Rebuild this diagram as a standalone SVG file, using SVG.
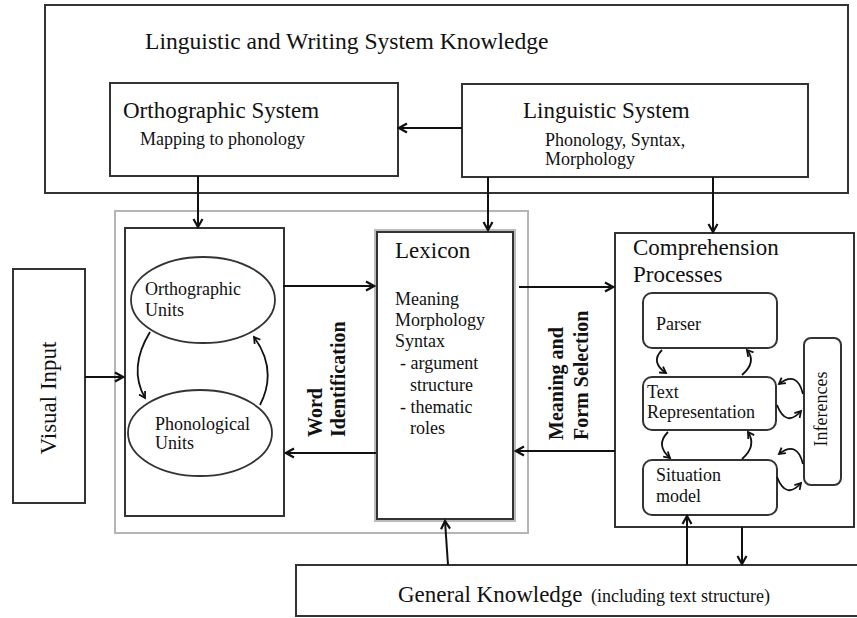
<svg xmlns="http://www.w3.org/2000/svg" width="857" height="618" viewBox="0 0 857 618">
<defs>
<marker id="ah" markerUnits="userSpaceOnUse" markerWidth="12" markerHeight="12" refX="9" refY="5" orient="auto" viewBox="-1 -1 12 12">
<path d="M1,0.5 L9,5 L1,9.5" fill="none" stroke="#111" stroke-width="2.2"/>
</marker>
<marker id="sah" markerUnits="userSpaceOnUse" markerWidth="10" markerHeight="10" refX="7" refY="4" orient="auto" viewBox="-1 -1 10 10">
<path d="M1,0.5 L7,4 L1,7.5" fill="none" stroke="#111" stroke-width="1.8"/>
</marker>
</defs>
<style>
text{font-family:"Liberation Serif","Times New Roman",serif;fill:#111}
.box{fill:#fff;stroke:#333;stroke-width:2}
.rbox{fill:#fff;stroke:#333;stroke-width:2}
.h{font-size:23px}
.t{font-size:18px}
.b{font-size:20px;font-weight:bold}
.c line,.c path{stroke:#111;stroke-width:2;fill:none}
.c .a{marker-end:url(#ah)}
.c .s{marker-end:url(#sah);stroke-width:1.8}
</style>
<rect width="857" height="618" fill="#fff"/>

<g id="ling-writing-knowledge">
<rect class="box" x="45" y="5" width="803" height="188"/>
<text x="145" y="49" font-size="23.6px">Linguistic and Writing System Knowledge</text>
</g>
<g id="orthographic-system">
<rect class="box" x="110" y="83" width="288" height="93"/>
<text class="h" x="123" y="118">Orthographic System</text>
<text class="t" x="140" y="145">Mapping to phonology</text>
</g>
<g id="linguistic-system">
<rect class="box" x="462" y="84" width="346" height="93"/>
<text class="h" x="523" y="118">Linguistic System</text>
<text class="t" x="545" y="146">Phonology, Syntax,</text>
<text class="t" x="545" y="165">Morphology</text>
</g>

<g id="word-level-group">
<rect x="115" y="211" width="413" height="322" fill="none" stroke="#b5b5b5" stroke-width="2"/>
</g>

<g id="visual-input">
<rect class="box" x="13" y="269" width="72" height="234"/>
<text class="h" transform="translate(56,398) rotate(-90)" text-anchor="middle">Visual Input</text>
</g>

<g id="units-box">
<rect class="box" x="125" y="228" width="159" height="288"/>
</g>
<g id="orthographic-units">
<ellipse cx="203" cy="300" rx="72" ry="43" fill="#fff" stroke="#333" stroke-width="1.8"/>
<text class="t" x="145" y="295">Orthographic</text>
<text class="t" x="145" y="316">Units</text>
</g>
<g id="phonological-units">
<ellipse cx="200" cy="433" rx="72" ry="43" fill="#fff" stroke="#333" stroke-width="1.8"/>
<text class="t" x="155" y="430">Phonological</text>
<text class="t" x="155" y="449">Units</text>
</g>

<g id="word-identification">
<text class="b" transform="translate(322,437) rotate(-90)">Word</text>
<text class="b" transform="translate(345,437) rotate(-90)">Identification</text>
</g>

<g id="lexicon">
<rect x="375" y="230" width="140" height="291" fill="none" stroke="#bbb" stroke-width="2"/>
<rect class="box" x="377" y="232" width="136" height="287"/>
<text class="h" x="395" y="258">Lexicon</text>
<text class="t" x="395" y="305">Meaning</text>
<text class="t" x="395" y="326">Morphology</text>
<text class="t" x="395" y="347">Syntax</text>
<text class="t" x="400" y="369">- argument</text>
<text class="t" x="410" y="391">structure</text>
<text class="t" x="400" y="413">- thematic</text>
<text class="t" x="410" y="434">roles</text>
</g>

<g id="meaning-form-selection">
<text class="b" transform="translate(563,440) rotate(-90)">Meaning and</text>
<text class="b" transform="translate(588,440) rotate(-90)">Form Selection</text>
</g>

<g id="comprehension-processes">
<rect class="box" x="615" y="233" width="239" height="294"/>
<text class="h" x="633" y="255">Comprehension</text>
<text class="h" x="633" y="282">Processes</text>
</g>
<g id="parser">
<rect class="rbox" x="643" y="293" width="134" height="55" rx="9"/>
<text class="t" x="656" y="330">Parser</text>
</g>
<g id="text-representation">
<rect class="rbox" x="643" y="377" width="133" height="53" rx="9"/>
<text class="t" x="647" y="398">Text</text>
<text class="t" x="647" y="418">Representation</text>
</g>
<g id="situation-model">
<rect class="rbox" x="643" y="460" width="134" height="55" rx="9"/>
<text class="t" x="656" y="481">Situation</text>
<text class="t" x="656" y="502">model</text>
</g>
<g id="inferences">
<rect class="rbox" x="804" y="338" width="37" height="147" rx="7"/>
<text class="t" transform="translate(827,409) rotate(-90)" text-anchor="middle">Inferences</text>
</g>

<g id="general-knowledge">
<rect class="box" x="296" y="565" width="570" height="51"/>
<text x="398" y="602" font-size="23px">General Knowledge</text>
<text class="t" x="591" y="602">(including text structure)</text>
</g>

<g id="connectors" class="c">
<line class="a" x1="462" y1="128" x2="399" y2="128"/>
<line class="a" x1="198" y1="176" x2="198" y2="227"/>
<line class="a" x1="488" y1="177" x2="488" y2="230"/>
<line class="a" x1="713" y1="177" x2="713" y2="232"/>
<line class="a" x1="85" y1="377" x2="123" y2="377"/>
<line class="a" x1="283" y1="286" x2="374" y2="286"/>
<line class="a" x1="376" y1="453" x2="286" y2="453"/>
<line class="a" x1="519" y1="287" x2="613" y2="287"/>
<line class="a" x1="615" y1="451" x2="516" y2="451"/>
<line class="a" x1="448" y1="565" x2="445" y2="521"/>
<line class="a" x1="687" y1="565" x2="687" y2="516"/>
<line class="a" x1="742" y1="527" x2="742" y2="564"/>
<path class="s" d="M150,332 Q128,368 145,398"/>
<path class="s" d="M260,405 Q278,370 254,337"/>
<path class="s" d="M662,350 Q650,362 666,373"/>
<path class="s" d="M742,375 Q757,362 747,350"/>
<path class="s" d="M668,432 Q655,445 670,458"/>
<path class="s" d="M742,459 Q757,446 748,432"/>
<path class="s" d="M803,394 Q797,370 779,384"/>
<path class="s" d="M777,405 Q786,428 801,411"/>
<path class="s" d="M803,464 Q797,440 779,454"/>
<path class="s" d="M777,477 Q786,500 801,483"/>
</g>
</svg>
